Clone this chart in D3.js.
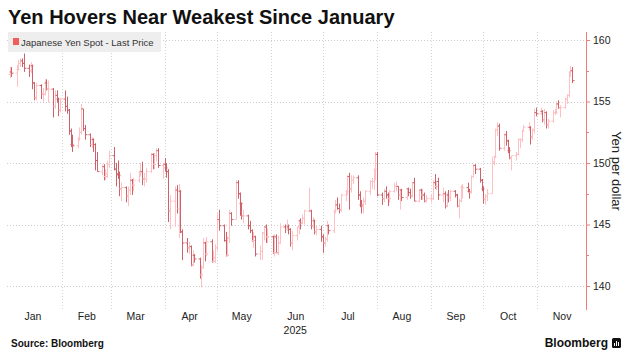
<!DOCTYPE html>
<html>
<head>
<meta charset="utf-8">
<script src="https://cdn.jsdelivr.net/npm/d3@7"></script>
<style>
  body { margin: 0; background: #fff; }
  svg { display: block; font-family: "Liberation Sans", Arial, sans-serif; }
</style>
</head>
<body>
<div id="chart"></div>
<script>
// USD/JPY daily bars, 2025
var year = 2025;
var days = [
  "01-02","01-03","01-06","01-07","01-08","01-09","01-10","01-13","01-14","01-15","01-16","01-17","01-20","01-21","01-22","01-23","01-24","01-27","01-28","01-29","01-30","01-31",
  "02-03","02-04","02-05","02-06","02-07","02-10","02-11","02-12","02-13","02-14","02-17","02-18","02-19","02-20","02-21","02-24","02-25","02-26","02-27","02-28",
  "03-03","03-04","03-05","03-06","03-07","03-10","03-11","03-12","03-13","03-14","03-17","03-18","03-19","03-20","03-21","03-24","03-25","03-26","03-27","03-28","03-31",
  "04-01","04-02","04-03","04-04","04-07","04-08","04-09","04-10","04-11","04-14","04-15","04-16","04-17","04-18","04-21","04-22","04-23","04-24","04-25","04-28","04-29","04-30",
  "05-01","05-02","05-05","05-06","05-07","05-08","05-09","05-12","05-13","05-14","05-15","05-16","05-19","05-20","05-21","05-22","05-23","05-26","05-27","05-28","05-29","05-30",
  "06-02","06-03","06-04","06-05","06-06","06-09","06-10","06-11","06-12","06-13","06-16","06-17","06-18","06-19","06-20","06-23","06-24","06-25","06-26","06-27","06-30",
  "07-01","07-02","07-03","07-04","07-07","07-08","07-09","07-10","07-11","07-14","07-15","07-16","07-17","07-18","07-21","07-22","07-23","07-24","07-25","07-28","07-29","07-30","07-31",
  "08-01","08-04","08-05","08-06","08-07","08-08","08-11","08-12","08-13","08-14","08-15","08-18","08-19","08-20","08-21","08-22","08-25","08-26","08-27","08-28","08-29",
  "09-01","09-02","09-03","09-04","09-05","09-08","09-09","09-10","09-11","09-12","09-15","09-16","09-17","09-18","09-19","09-22","09-23","09-24","09-25","09-26","09-29","09-30",
  "10-01","10-02","10-03","10-06","10-07","10-08","10-09","10-10","10-13","10-14","10-15","10-16","10-17","10-20","10-21","10-22","10-23","10-24","10-27","10-28","10-29","10-30","10-31",
  "11-03","11-04","11-05","11-06","11-07","11-10","11-11","11-12","11-13","11-14","11-17","11-18","11-19","11-20","11-21"
];
var opens = [
  157.2,157.4,157.3,157.6,158.1,158.3,158.1,157.7,157.5,157.9,156.5,155.3,156.3,155.6,155.6,156.5,156.0,156.0,154.6,155.5,155.2,154.3,
  155.2,154.6,154.3,152.6,151.5,151.4,152.0,152.5,154.4,152.8,152.3,151.5,151.9,151.5,150.2,149.3,149.7,148.9,149.1,149.9,
  150.6,149.5,149.1,149.0,147.9,148.0,147.3,147.8,148.6,148.2,148.6,149.2,149.3,148.7,148.7,149.3,150.7,149.9,150.6,151.0,149.8,
  149.9,149.6,149.3,146.1,146.9,147.8,146.3,147.7,144.4,143.5,143.1,143.2,141.7,142.5,142.2,140.9,141.5,143.5,142.6,143.6,142.0,142.3,
  143.1,145.4,144.9,143.7,142.5,143.9,145.9,145.4,148.4,147.5,146.7,145.7,145.7,144.9,144.5,143.7,144.0,142.6,142.8,144.3,144.8,144.0,
  144.0,142.7,144.0,142.7,143.5,144.8,144.6,144.8,144.6,143.5,144.1,144.8,145.3,145.1,145.5,146.1,146.1,144.9,145.3,144.4,144.6,
  144.0,143.5,143.8,144.9,144.5,146.1,146.6,146.3,146.2,147.4,147.7,148.9,147.9,148.6,148.8,147.4,146.6,146.5,146.9,147.7,148.5,148.5,149.5,
  150.7,147.4,147.1,147.7,147.4,147.1,147.7,148.1,148.1,147.4,147.8,147.2,147.9,147.6,147.3,148.4,146.9,147.8,147.4,147.4,146.9,
  147.1,147.1,148.4,148.1,148.5,147.4,147.5,146.5,147.4,147.2,147.7,147.4,146.5,146.9,148.0,148.0,147.7,147.6,148.9,149.8,149.5,148.6,
  147.9,147.1,147.3,147.5,150.1,150.5,152.7,153.0,151.2,152.3,151.8,151.0,150.4,150.6,150.7,151.9,151.9,152.6,152.9,152.9,152.1,152.7,154.1,
  154.0,154.2,153.5,154.1,153.1,153.4,154.1,154.1,154.8,154.5,154.5,155.2,155.5,157.4,157.5
];
var highs = [
  157.8,157.8,158.0,158.4,158.5,158.5,158.9,158.0,158.2,158.0,156.6,156.5,156.4,156.1,156.8,156.8,156.7,156.1,155.9,155.9,155.3,155.3,
  155.9,155.4,154.4,152.8,152.3,152.1,152.9,154.8,154.4,153.1,152.4,152.1,152.0,151.6,150.9,149.9,149.9,149.5,150.2,151.0,
  151.3,150.0,150.2,149.3,148.4,148.1,148.1,149.2,148.7,148.8,149.4,150.0,150.1,149.2,149.6,150.8,150.8,150.8,151.2,151.2,150.0,
  150.4,150.0,149.5,147.4,148.1,148.2,148.3,147.8,144.6,143.9,143.6,143.3,142.9,142.6,142.3,141.7,143.9,143.6,144.0,143.8,142.9,143.4,
  145.9,146.2,145.0,144.4,144.0,146.2,146.0,148.6,148.6,147.6,146.8,146.2,145.8,145.3,144.6,144.4,144.1,143.3,144.4,144.9,145.0,144.7,
  144.1,144.2,144.2,144.1,145.1,145.0,145.4,145.0,144.7,144.5,144.8,145.4,145.5,145.8,146.2,148.0,146.2,145.6,145.4,144.9,144.9,
  144.2,144.0,145.3,145.0,146.2,147.0,147.2,146.7,147.5,147.8,149.0,149.2,149.0,149.0,149.0,147.7,147.0,147.2,147.8,148.6,148.8,149.5,150.9,
  150.9,147.6,147.9,148.1,147.6,147.8,148.4,148.5,148.1,147.9,147.9,147.9,148.0,147.9,148.4,148.8,147.8,147.9,147.9,147.6,147.4,
  147.4,148.6,149.1,148.5,148.8,148.0,147.7,147.6,147.8,147.8,147.8,147.5,147.1,148.2,148.3,148.4,147.9,149.0,149.9,149.9,149.6,148.7,
  148.1,147.5,147.9,150.5,150.6,152.8,153.3,153.2,152.4,152.6,151.9,151.3,150.6,150.9,152.0,152.0,152.7,153.1,153.3,153.0,152.8,154.4,154.5,
  154.5,154.3,154.4,154.2,153.6,154.3,154.4,155.0,155.1,154.7,155.3,155.6,157.4,157.9,157.8
];
var lows = [
  156.9,157.0,156.2,157.5,157.8,157.8,157.4,157.0,157.3,156.0,155.1,155.1,155.2,155.0,155.5,155.9,154.9,153.7,154.4,154.9,153.8,154.1,
  154.2,154.0,152.3,151.3,150.9,151.2,151.8,152.3,152.6,151.9,151.3,151.2,150.9,149.4,149.3,149.0,148.6,148.6,148.8,149.6,
  149.4,148.1,148.7,147.3,146.9,146.8,146.5,147.4,147.4,147.7,148.4,148.9,148.2,148.1,148.4,149.2,149.5,149.5,150.1,149.6,148.7,
  149.3,148.8,145.2,144.6,144.8,145.9,143.9,144.3,142.1,142.7,142.6,141.6,141.6,141.9,140.6,139.9,141.4,142.0,142.4,141.9,141.9,141.9,
  142.9,144.5,143.6,142.4,142.4,143.5,144.9,145.4,147.1,145.7,145.4,145.1,144.6,144.3,143.6,143.1,142.4,142.1,142.1,143.7,143.5,143.5,
  142.6,142.4,142.7,142.5,143.4,144.3,144.5,144.2,143.2,142.9,143.7,144.2,144.6,145.0,145.0,146.0,144.6,144.7,144.2,144.1,143.6,
  142.7,143.2,143.6,144.2,144.3,145.9,146.2,145.9,146.0,146.9,147.4,146.2,147.6,148.3,147.0,146.4,145.9,145.9,146.6,147.4,147.9,147.8,148.6,
  147.3,146.6,146.8,147.1,146.5,146.8,147.6,147.7,147.0,146.2,146.9,147.0,147.3,147.1,147.2,146.9,146.8,147.0,147.0,146.8,146.8,
  146.8,147.0,147.9,147.8,147.0,146.8,146.3,146.4,146.8,146.9,147.2,146.4,145.5,146.8,147.1,147.6,147.1,147.5,148.8,149.1,148.4,147.7,
  146.7,146.6,146.9,147.5,149.8,150.4,152.2,151.0,151.0,151.4,150.8,150.3,149.4,150.2,150.6,151.2,151.7,152.6,152.6,151.5,151.9,152.4,153.8,
  153.9,153.3,153.1,152.8,152.8,153.3,153.9,154.0,154.4,153.7,154.4,154.8,155.3,157.0,156.5
];
var closes = [
  157.4,157.3,157.6,158.1,158.3,158.1,157.7,157.5,157.9,156.5,155.3,156.3,155.6,155.6,156.5,156.0,156.0,154.6,155.5,155.2,154.3,155.2,
  154.6,154.3,152.6,151.5,151.4,152.0,152.5,154.4,152.8,152.3,151.5,151.9,151.5,150.2,149.3,149.7,148.9,149.1,149.9,150.6,
  149.5,149.1,149.0,147.9,148.0,147.3,147.8,148.6,148.2,148.6,149.2,149.3,148.7,148.7,149.3,150.7,149.9,150.6,151.0,149.8,149.9,
  149.6,149.3,146.1,146.9,147.8,146.3,147.7,144.4,143.5,143.1,143.2,141.7,142.5,142.2,140.9,141.5,143.5,142.6,143.6,142.0,142.3,143.1,
  145.4,144.9,143.7,142.5,143.9,145.9,145.4,148.4,147.5,146.7,145.7,145.7,144.9,144.5,143.7,144.0,142.6,142.8,144.3,144.8,144.0,144.0,
  142.7,144.0,142.7,143.5,144.8,144.6,144.8,144.6,143.5,144.1,144.8,145.3,145.1,145.5,146.1,146.1,144.9,145.3,144.4,144.6,144.0,
  143.5,143.8,144.9,144.5,146.1,146.6,146.3,146.2,147.4,147.7,148.9,147.9,148.6,148.8,147.4,146.6,146.5,146.9,147.7,148.5,148.5,149.5,150.7,
  147.4,147.1,147.7,147.4,147.1,147.7,148.1,148.1,147.4,147.8,147.2,147.9,147.6,147.3,148.4,146.9,147.8,147.4,147.4,146.9,147.1,
  147.1,148.4,148.1,148.5,147.4,147.5,146.5,147.4,147.2,147.7,147.4,146.5,146.9,148.0,148.0,147.7,147.6,148.9,149.8,149.5,148.6,147.9,
  147.1,147.3,147.5,150.1,150.5,152.7,153.0,151.2,152.3,151.8,151.0,150.4,150.6,150.7,151.9,151.9,152.6,152.9,152.9,152.1,152.7,154.1,154.0,
  154.2,153.5,154.1,153.1,153.4,154.1,154.1,154.8,154.5,154.5,155.2,155.5,157.4,157.5,156.7
];
var yTicks = [140, 145, 150, 155, 160];
var yMinor = [142.5, 147.5, 152.5, 157.5];
var months = ["Jan","Feb","Mar","Apr","May","Jun","Jul","Aug","Sep","Oct","Nov"];

var width = 643, height = 361;
var parse = d3.utcParse("%Y-%m-%d");

var data = days.map(function(d, i) {
  return { date: parse(year + "-" + d), o: opens[i], h: highs[i], l: lows[i], c: closes[i] };
});

var svg = d3.select("#chart").append("svg")
  .attr("width", width)
  .attr("height", height);

var plotTop = 32, plotBottom = 310, plotLeft = 7, plotRight = 586;

var x = d3.scaleUtc()
  .domain([new Date(Date.UTC(year, 0, 1)), new Date(Date.UTC(year, 10, 29))])
  .range([8, plotRight]);

var y = d3.scaleLinear()
  .domain([140, 160])
  .range([286, 40]);

// grid
svg.append("g").selectAll("line")
  .data(yTicks)
  .enter().append("line")
  .attr("x1", plotLeft).attr("x2", plotRight)
  .attr("y1", function(d) { return Math.round(y(d)) + 0.5; })
  .attr("y2", function(d) { return Math.round(y(d)) + 0.5; })
  .attr("stroke", "#cccccc")
  .attr("stroke-dasharray", "1,2");

var monthStarts = d3.range(1, 11).map(function(m) { return new Date(Date.UTC(year, m, 1)); });
svg.append("g").selectAll("line")
  .data(monthStarts)
  .enter().append("line")
  .attr("x1", function(d) { return Math.round(x(d)) + 0.5; })
  .attr("x2", function(d) { return Math.round(x(d)) + 0.5; })
  .attr("y1", plotTop).attr("y2", plotBottom)
  .attr("stroke", "#d4d4d4")
  .attr("stroke-dasharray", "1,2");

// legend
svg.append("rect")
  .attr("x", 8).attr("y", 32)
  .attr("width", 153).attr("height", 20)
  .attr("fill", "#eeeeee");
svg.append("rect")
  .attr("x", 13).attr("y", 38)
  .attr("width", 6).attr("height", 7)
  .attr("fill", "#f45b5b");
svg.append("text")
  .attr("x", 21).attr("y", 45.5)
  .attr("font-size", "9.5px")
  .attr("fill", "#333")
  .text("Japanese Yen Spot - Last Price");

// OHLC bars
var bars = svg.append("g");
bars.selectAll("path")
  .data(data)
  .enter().append("path")
  .attr("d", function(d) {
    var xi = Math.round(x(d.date)) + 0.5;
    return "M" + xi + "," + y(d.h) + "V" + y(d.l) +
      "M" + (xi - 2) + "," + y(d.o) + "H" + xi +
      "M" + xi + "," + y(d.c) + "H" + (xi + 2);
  })
  .attr("fill", "none")
  .attr("stroke", function(d) { return d.c < d.o ? "#cd636a" : "#ffc0c4"; })
  .attr("stroke-width", 1);

// right axis
var axisColor = "#f27b7b";
var yAxis = svg.append("g")
  .attr("transform", "translate(" + plotRight + ",0)")
  .call(d3.axisRight(y).tickValues(yTicks).tickSize(4).tickPadding(3).tickFormat(d3.format("d")));
yAxis.select(".domain").remove();
yAxis.selectAll(".tick line").attr("stroke", axisColor);
yAxis.selectAll(".tick text")
  .attr("font-family", "Liberation Sans, Arial, sans-serif")
  .attr("font-size", "10.5px")
  .attr("fill", "#222");
yAxis.append("g").selectAll("line")
  .data(yMinor)
  .enter().append("line")
  .attr("x1", 0).attr("x2", 3)
  .attr("y1", function(d) { return Math.round(y(d)) + 0.5; })
  .attr("y2", function(d) { return Math.round(y(d)) + 0.5; })
  .attr("stroke", axisColor);
yAxis.append("line")
  .attr("x1", 0.5).attr("x2", 0.5)
  .attr("y1", plotTop).attr("y2", plotBottom)
  .attr("stroke", axisColor);

svg.append("text")
  .attr("transform", "translate(612,171) rotate(90)")
  .attr("text-anchor", "middle")
  .attr("font-size", "13px")
  .attr("fill", "#222")
  .text("Yen per dollar");

// month axis
var midMonths = months.map(function(m, i) { return new Date(Date.UTC(year, i, 15)); });
var xAxis = svg.append("g")
  .attr("transform", "translate(0," + plotBottom + ")")
  .call(d3.axisBottom(x).tickValues(midMonths).tickSize(0).tickPadding(3)
    .tickFormat(function(d, i) { return months[i]; }));
xAxis.select(".domain").remove();
xAxis.selectAll(".tick text")
  .attr("font-family", "Liberation Sans, Arial, sans-serif")
  .attr("font-size", "10.5px")
  .attr("fill", "#222");

svg.append("text")
  .attr("x", x(midMonths[5]))
  .attr("y", 334)
  .attr("text-anchor", "middle")
  .attr("font-size", "10.5px")
  .attr("fill", "#222")
  .text(year);

// title + footer
svg.append("text")
  .attr("x", 8).attr("y", 24)
  .attr("font-size", "20px")
  .attr("font-weight", "bold")
  .attr("fill", "#111")
  .text("Yen Hovers Near Weakest Since January");

svg.append("text")
  .attr("x", 11).attr("y", 347)
  .attr("font-size", "10px")
  .attr("font-weight", "bold")
  .attr("fill", "#111")
  .text("Source: Bloomberg");

svg.append("text")
  .attr("x", 608).attr("y", 347)
  .attr("text-anchor", "end")
  .attr("font-size", "12px")
  .attr("font-weight", "bold")
  .attr("fill", "#111")
  .text("Bloomberg");

var logo = svg.append("g").attr("transform", "translate(612,338)");
logo.append("rect")
  .attr("width", 9).attr("height", 10).attr("rx", 1.5)
  .attr("fill", "#111");
logo.selectAll("rect.bar")
  .data([[2, 5, 3], [4, 3, 5], [6, 4, 4]])
  .enter().append("rect")
  .attr("class", "bar")
  .attr("x", function(d) { return d[0]; })
  .attr("y", function(d) { return d[1]; })
  .attr("width", 1)
  .attr("height", function(d) { return d[2]; })
  .attr("fill", "#fff");
</script>
</body>
</html>
